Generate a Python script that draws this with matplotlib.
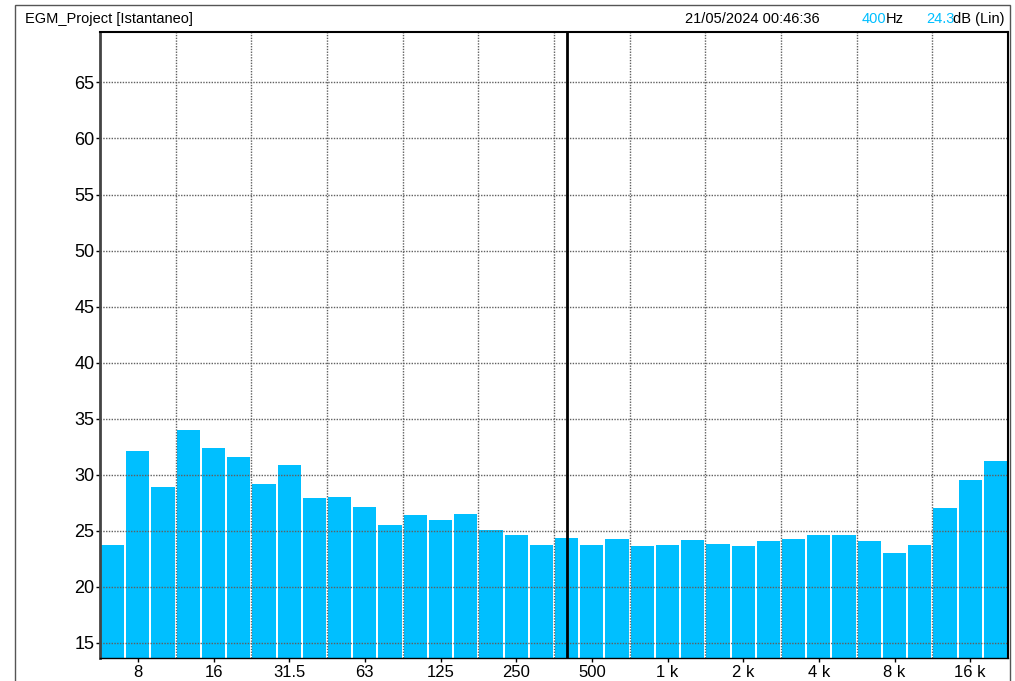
import numpy as np
import matplotlib.pyplot as plt
from matplotlib.patches import Rectangle

plt.rcParams['font.family'] = ['Liberation Sans', 'DejaVu Sans']

# third-octave bands (Hz) and measured levels (dB, Lin)
bands = ['6.3', '8', '10', '12.5', '16', '20', '25', '31.5', '40', '50',
         '63', '80', '100', '125', '160', '200', '250', '315', '400', '500',
         '630', '800', '1 k', '1.25 k', '1.6 k', '2 k', '2.5 k', '3.15 k',
         '4 k', '5 k', '6.3 k', '8 k', '10 k', '12.5 k', '16 k', '20 k']
levels = [23.7, 32.1, 28.9, 34.0, 32.4, 31.6, 29.2, 30.9, 27.9, 28.0,
          27.1, 25.5, 26.4, 26.0, 26.5, 25.1, 24.6, 23.7, 24.4, 23.7,
          24.3, 23.6, 23.7, 24.2, 23.8, 23.6, 24.1, 24.3, 24.6, 24.6,
          24.1, 23.0, 23.7, 27.0, 29.5, 31.2]
shown_labels = ['8', '16', '31.5', '63', '125', '250', '500', '1 k', '2 k',
                '4 k', '8 k', '16 k']
yticks = [15, 20, 25, 30, 35, 40, 45, 50, 55, 60, 65]
cursor_band = '400'
cursor_value = '24.3'

fig = plt.figure(figsize=(10.15, 6.81), dpi=100)
ax = fig.add_axes([100 / 1015, 23 / 681, 908 / 1015, 626 / 681])

x = np.arange(len(bands))
ax.bar(x, levels, width=0.92, color='#00BFFF', zorder=1)

ax.set_xlim(-0.5, len(bands) - 0.5)
ax.set_ylim(13.65, 69.5)

# grid: horizontal at every 5 dB, vertical every 3 bands (on band edges)
ax.set_yticks(yticks)
ax.set_yticklabels([str(v) for v in yticks], fontsize=13)
for v in yticks:
    ax.axhline(v, color='#606060', lw=1, ls=(0, (1, 1)), zorder=2)
for b in np.arange(2.5, len(bands) - 1, 3):
    ax.axvline(b, color='#606060', lw=1, ls=(0, (1, 1)), zorder=2)

ax.set_xticks([bands.index(l) for l in shown_labels])
ax.set_xticklabels(shown_labels, fontsize=12)
ax.tick_params(axis='x', length=3, width=1, pad=2, direction='out')
ax.tick_params(axis='y', length=3, width=1, pad=1, direction='out')

# cursor line
ax.axvline(bands.index(cursor_band), color='black', lw=2, zorder=3)

for side in ['top', 'right']:
    ax.spines[side].set_color('black')
    ax.spines[side].set_linewidth(1.5)
ax.spines['left'].set_color('#444444')
ax.spines['left'].set_linewidth(2)
ax.spines['bottom'].set_color('black')
ax.spines['bottom'].set_linewidth(1)

# outer frame
fig.patches.append(Rectangle((15 / 1015, -0.01), 995 / 1015, 676 / 681 + 0.01,
                             transform=fig.transFigure, fill=False,
                             edgecolor='#555555', lw=1))

# header texts
hy = 1 - 19 / 681
fig.text(25 / 1015, hy, 'EGM_Project [Istantaneo]', fontsize=10.5,
         va='center', ha='left')
fig.text(685 / 1015, hy, '21/05/2024 00:46:36', fontsize=10.5,
         va='center', ha='left')
fig.text(862 / 1015, hy, cursor_band, fontsize=10.5, color='#00BFFF',
         va='center', ha='left')
fig.text(886 / 1015, hy, 'Hz', fontsize=10.5, va='center', ha='left')
fig.text(926 / 1015, hy, cursor_value, fontsize=10.5, color='#00BFFF',
         va='center', ha='left')
fig.text(953 / 1015, hy, 'dB (Lin)', fontsize=10.5, va='center',
         ha='left')

plt.savefig('out.png', dpi=100)
